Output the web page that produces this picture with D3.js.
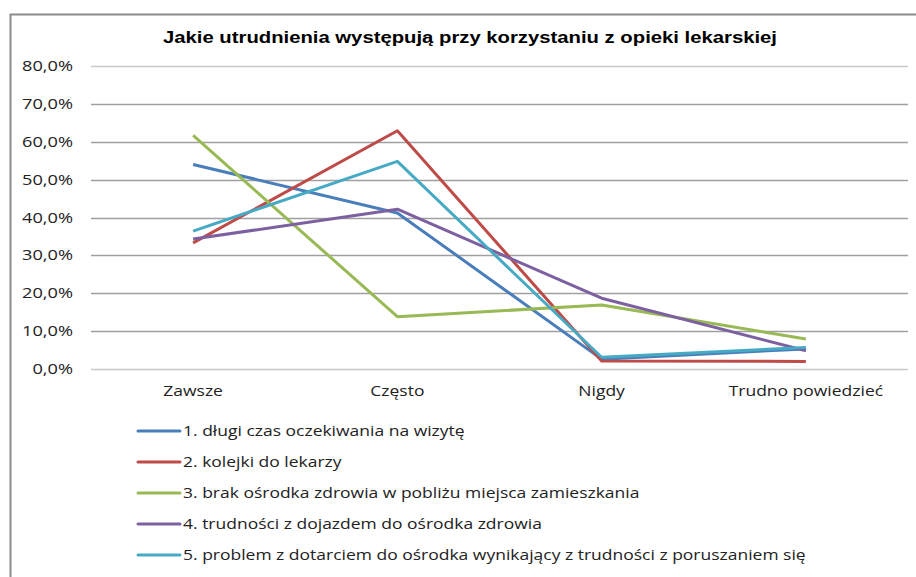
<!DOCTYPE html>
<head>
  <meta charset="utf-8">
  <script src="https://cdnjs.cloudflare.com/ajax/libs/d3/7.8.5/d3.min.js"></script>
  <style>
    body { margin: 0; background: #fff; }
    text { font-family: "Open Sans", "DejaVu Sans", sans-serif; fill: #222; }
    .title { font-family: "Liberation Sans Narrow", "Liberation Sans", Arial, sans-serif; font-weight: bold; font-size: 16px; fill: #000; }
  </style>
</head>
<body>
  <svg id="chart"></svg>
  <script>
    var width = 916;
    var height = 577;

    // chart data
    var categories = ["Zawsze", "Często", "Nigdy", "Trudno powiedzieć"];
    var seriesNames = [
      "1. długi czas oczekiwania na wizytę",
      "2. kolejki do lekarzy",
      "3. brak ośrodka zdrowia w pobliżu miejsca zamieszkania",
      "4. trudności z dojazdem do ośrodka zdrowia",
      "5. problem z dotarciem do ośrodka wynikający z trudności z poruszaniem się"
    ];
    var s1 = [54.0, 41.2, 2.6, 5.3];
    var s2 = [33.3, 62.9, 2.1, 2.0];
    var s3 = [61.7, 13.8, 16.9, 7.9];
    var s4 = [34.3, 42.2, 18.7, 4.8];
    var s5 = [36.4, 54.8, 3.1, 5.7];
    var yTicks = [0, 10, 20, 30, 40, 50, 60, 70, 80];
    var colors = ["#4a7ebb", "#be4b48", "#98b954", "#7d60a0", "#46aac5"];

    var allSeries = [s1, s2, s3, s4, s5];

    // the original picture is stretched sideways a bit
    var stretch = 1.25;

    var svg = d3.select("#chart")
      .attr("width", width)
      .attr("height", height);

    // outer frame (right side runs off the picture)
    svg.append("path")
      .attr("d", "M10.5,577 L10.5,14.5 L916,14.5")
      .attr("fill", "none")
      .attr("stroke", "#8c8c8c")
      .attr("stroke-width", 2);

    svg.append("text")
      .attr("class", "title")
      .attr("x", 470)
      .attr("y", 43)
      .attr("text-anchor", "middle")
      .attr("textLength", 614)
      .attr("lengthAdjust", "spacingAndGlyphs")
      .text("Jakie utrudnienia występują przy korzystaniu z opieki lekarskiej");

    var plotLeft = 91, plotRight = 908, plotTop = 66, plotBottom = 369;

    var x = d3.scaleBand()
      .domain(categories)
      .range([plotLeft, plotRight]);

    var y = d3.scaleLinear()
      .domain([0, 80])
      .range([plotBottom, plotTop]);

    // gridlines
    svg.append("g")
      .selectAll("line")
      .data(yTicks)
      .enter().append("line")
      .attr("x1", plotLeft)
      .attr("x2", plotRight)
      .attr("y1", d => Math.round(y(d)) + 0.5)
      .attr("y2", d => Math.round(y(d)) + 0.5)
      .attr("stroke", d => (d == 0 || d == 80) ? "#c8c8c8" : "#a0a0a0")
      .attr("stroke-width", 1.5);

    // y labels, sized so "80,0%" is about 51px wide like the original
    var yLabels = svg.append("g")
      .selectAll("text")
      .data(yTicks)
      .enter().append("text")
      .attr("dy", "0.35em")
      .attr("text-anchor", "end")
      .style("font-size", "14.5px")
      .text(d => d.toFixed(1).replace(".", ",") + "%");

    var yStretch = 51 / yLabels.filter(d => d == 80).node().getComputedTextLength();
    yLabels.attr("transform", d => "translate(73," + y(d) + ") scale(" + yStretch + ",1)");

    // category labels
    svg.append("g")
      .selectAll("text")
      .data(categories)
      .enter().append("text")
      .attr("transform", d => "translate(" + (x(d) + x.bandwidth() / 2) + ",396) scale(" + stretch + ",1)")
      .attr("text-anchor", "middle")
      .style("font-size", "14px")
      .text(d => d);

    var line = d3.line()
      .x((d, i) => x(categories[i]) + x.bandwidth() / 2)
      .y(d => y(d));

    svg.append("g")
      .selectAll("path")
      .data(allSeries)
      .enter().append("path")
      .attr("d", d => line(d))
      .attr("fill", "none")
      .attr("stroke", (d, i) => colors[i])
      .attr("stroke-width", 3)
      .attr("stroke-linejoin", "round");

    // legend
    var legend = svg.append("g")
      .selectAll("g")
      .data(seriesNames)
      .enter().append("g")
      .attr("transform", (d, i) => "translate(138," + (431 + i * 31) + ")");

    legend.append("line")
      .attr("x1", 0)
      .attr("x2", 42)
      .attr("stroke", (d, i) => colors[i])
      .attr("stroke-width", 3)
      .attr("stroke-linecap", "round");

    legend.append("text")
      .attr("transform", "translate(45,0) scale(" + stretch + ",1)")
      .attr("dy", "0.35em")
      .style("font-size", "14px")
      .text(d => d);
  </script>
</body>
